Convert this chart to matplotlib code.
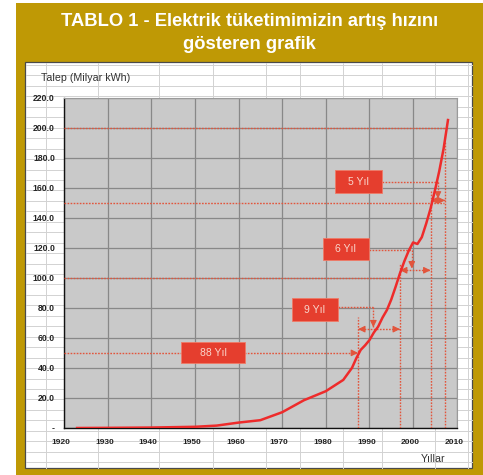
import matplotlib
matplotlib.use("Agg")
import matplotlib.pyplot as plt
from matplotlib.patches import Rectangle
from matplotlib.transforms import ScaledTranslation
import numpy as np

# ---------------- data ----------------
years = [1923, 1930, 1940, 1950, 1955, 1960, 1965, 1970, 1975, 1980, 1984, 1986,
         1987, 1988, 1989, 1990, 1991, 1992, 1993, 1994, 1995, 1996, 1997, 1998,
         1999, 2000, 2001, 2002, 2003, 2004, 2005, 2006, 2007, 2008]
demand = [0.0, 0.1, 0.3, 0.8, 1.6, 3.6, 5.2, 10.5, 18.5, 24.5, 32.0, 40.0,
          46.5, 52.0, 55.0, 58.5, 63.5, 67.5, 73.5, 78.5, 85.5, 94.0, 103.0, 111.0,
          118.0, 123.5, 122.5, 127.0, 136.0, 146.0, 158.0, 171.0, 186.0, 205.0]

thresholds = [50, 100, 150, 200]
reach_years = [1987.4, 1997.0, 2004.0, 2007.35]
interval_labels = ["88 Yıl", "9 Yıl", "6 Yıl", "5 Yıl"]

x_ticks = [1920, 1930, 1940, 1950, 1960, 1970, 1980, 1990, 2000, 2010]
y_ticks = [0, 20, 40, 60, 80, 100, 120, 140, 160, 180, 200, 220]
y_tick_labels = ["-", "20.0", "40.0", "60.0", "80.0", "100.0", "120.0", "140.0",
                 "160.0", "180.0", "200.0", "220.0"]

title_lines = ["TABLO 1 - Elektrik tüketimimizin artış hızını", "gösteren grafik"]
y_title = "Talep (Milyar kWh)"
x_title = "Yıllar"

# ---------------- style ----------------
GOLD = "#BF9905"
PLOT_BG = "#C9C9C9"
GRID = "#888888"
CURVE = "#EE2B2B"
DOT = "#E2553C"
BOX = "#E53E2E"
BOX_TXT = "#F9D6CC"
SHEET = "#D2D2D2"
REG = ["Liberation Sans", "DejaVu Sans"]

W, H = 483, 475
fig = plt.figure(figsize=(W / 100, H / 100), dpi=100)
fig.patch.set_facecolor("white")

# background (frame, spreadsheet) in pixel coordinates
bg = fig.add_axes([0, 0, 1, 1], zorder=0)
bg.set_xlim(0, W)
bg.set_ylim(H, 0)
bg.axis("off")
bg.add_patch(Rectangle((16, 3), W - 16, H - 3, facecolor=GOLD, edgecolor="none"))
bg.add_patch(Rectangle((25, 62), 447, 406, facecolor="white", edgecolor="#4a4a4a", lw=0.9))
for yy in np.arange(65, 468, 10.45):
    bg.plot([25.5, 471.5], [yy, yy], color=SHEET, lw=0.7)
for xx in [45.7, 98, 159, 213, 266, 300, 343, 382, 435, 468]:
    bg.plot([xx, xx], [62.5, 467.5], color=SHEET, lw=0.7)
bg.text(249.5, 22, title_lines[0], ha="center", va="center", color="white",
        fontsize=13.2, fontweight="bold", family=REG)
bg.text(249.5, 44.5, title_lines[1], ha="center", va="center", color="white",
        fontsize=13.2, fontweight="bold", family=REG)
bg.text(40.7, 77.7, y_title, ha="left", va="center", color="#333333",
        fontsize=7.7, family=REG)
bg.text(433.5, 459, x_title, ha="center", va="center", color="#333333",
        fontsize=7.7, family=REG)

# ---------------- main chart ----------------
ax = fig.add_axes([64 / W, 1 - 428 / H, (456.7 - 64) / W, (428 - 97.5) / H], zorder=2)
ax.set_facecolor(PLOT_BG)
ax.set_xlim(1920, 2010)
ax.set_ylim(0, 220)
ax.set_xticks(x_ticks)
ax.set_yticks(y_ticks)
ax.set_yticklabels(y_tick_labels)
ax.grid(True, color=GRID, lw=0.9)
ax.set_axisbelow(True)
for s in ["top", "right"]:
    ax.spines[s].set_color("#9a9a9a")
    ax.spines[s].set_linewidth(0.8)
for s in ["left", "bottom"]:
    ax.spines[s].set_color("#111111")
    ax.spines[s].set_linewidth(1.0)
ax.tick_params(axis="both", length=0, colors="#222222")
ax.tick_params(axis="y", pad=6.5)
ax.tick_params(axis="x", pad=8.0)
for lab in ax.get_yticklabels():
    lab.set_fontfamily(REG)
    lab.set_fontweight("bold")
    lab.set_fontsize(6.2)
for lab in ax.get_xticklabels():
    lab.set_fontfamily(REG)
    lab.set_fontweight("bold")
    lab.set_fontsize(6.0)
    lab.set_transform(lab.get_transform() + ScaledTranslation(-3 / 100, 0, fig.dpi_scale_trans))

dot_kw = dict(color=DOT, lw=1.0, linestyle=(0, (1.2, 1.0)), zorder=3)


def head(x, y, dx, dy):
    ax.annotate("", xy=(x, y), xytext=(x - dx, y - dy),
                arrowprops=dict(arrowstyle="-|>,head_length=0.45,head_width=0.22",
                                color=DOT, lw=0.8, shrinkA=0, shrinkB=0,
                                mutation_scale=9), zorder=4)


# threshold horizontal lines (layout: where each one stops)
h_ends = [reach_years[0], reach_years[1], 2007.2, 2007.7]
for t, xe in zip(thresholds, h_ends):
    ax.plot([1920, xe], [t, t], **dot_kw)
head(reach_years[0], thresholds[0], 1.0, 0)

# vertical drop lines
v_tops = [74, 110, 158, 191]
for xr, top in zip(reach_years, v_tops):
    ax.plot([xr, xr], [0, top], **dot_kw)

# double arrows between reach years
arrow_levels = [65.8, 105.0, 151.5]
for i, lvl in enumerate(arrow_levels):
    x0, x1 = reach_years[i], reach_years[i + 1]
    ax.plot([x0, x1], [lvl, lvl], **dot_kw)
    head(x0, lvl, -0.6, 0)
    head(x1, lvl, 0.6, 0)

# label boxes: (center x, center y, width, height)
boxes = [(1954.15, 50.2, 14.7, 14.4), (1977.45, 78.75, 10.5, 15.3),
         (1984.6, 119.0, 10.4, 14.6), (1987.45, 164.0, 10.7, 15.1)]
# connectors from box to double arrow: (y of connector, x of turn)
connectors = [None, (80.6, 1990.9), (118.8, 1999.7), (164.0, 2005.7)]
for i, (lab, (cx, cy, bw, bh)) in enumerate(zip(interval_labels, boxes)):
    ax.add_patch(Rectangle((cx - bw / 2, cy - bh / 2), bw, bh, facecolor=BOX,
                           edgecolor="#F07A66", lw=0.6, zorder=5))
    ax.text(cx, cy, lab, ha="center", va="center", color=BOX_TXT, fontsize=7.5,
            family=REG, zorder=6)
    if connectors[i] is not None:
        cyl, xt = connectors[i]
        lvl = arrow_levels[i - 1]
        ax.plot([cx + bw / 2, xt], [cyl, cyl], **dot_kw)
        ax.plot([xt, xt], [cyl, lvl + 1.5], **dot_kw)
        head(xt, lvl + 1.2, 0, -3)

# demand curve
ax.plot(years, demand, color=CURVE, lw=1.8, zorder=7, solid_joinstyle="round")

fig.savefig("out.png", dpi=100, facecolor=fig.get_facecolor())
